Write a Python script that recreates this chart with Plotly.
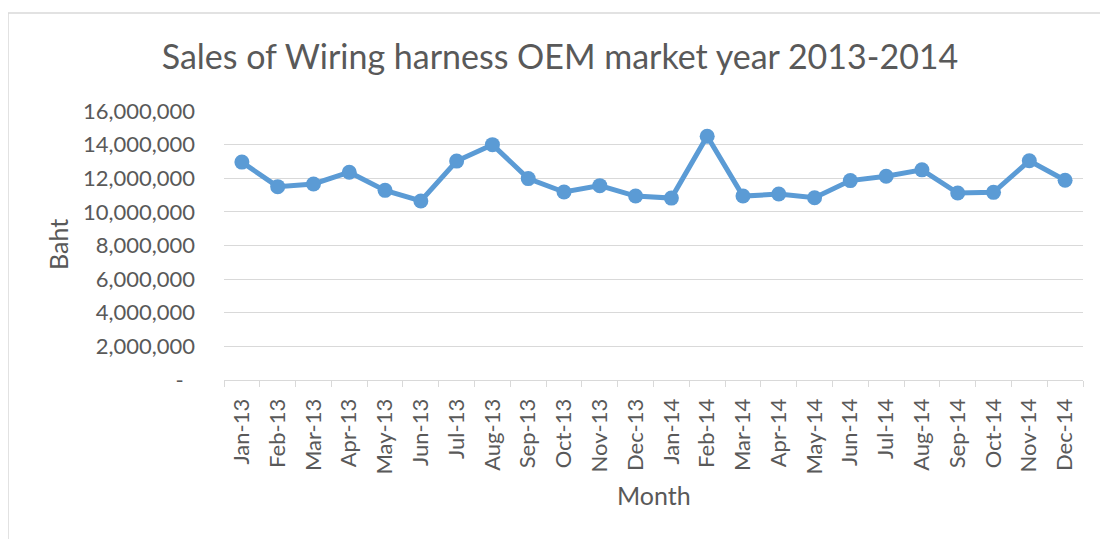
import plotly.graph_objects as go

months = ["Jan-13", "Feb-13", "Mar-13", "Apr-13", "May-13", "Jun-13",
          "Jul-13", "Aug-13", "Sep-13", "Oct-13", "Nov-13", "Dec-13",
          "Jan-14", "Feb-14", "Mar-14", "Apr-14", "May-14", "Jun-14",
          "Jul-14", "Aug-14", "Sep-14", "Oct-14", "Nov-14", "Dec-14"]
sales = [12960000, 11500000, 11660000, 12360000, 11280000, 10650000,
         13020000, 14000000, 11980000, 11180000, 11560000, 10940000,
         10820000, 14500000, 10940000, 11060000, 10840000, 11860000,
         12120000, 12500000, 11120000, 11160000, 13040000, 11880000]
y_tick_vals = [0, 2000000, 4000000, 6000000, 8000000, 10000000, 12000000, 14000000, 16000000]
y_tick_text = ["-\u00a0\u00a0", "2,000,000", "4,000,000", "6,000,000", "8,000,000",
               "10,000,000", "12,000,000", "14,000,000", "16,000,000"]

FONT = "Lato"
GREY = "#595959"
GRID = "#d9d9d9"
BLUE = "#5b9bd5"

# page body has an 8px margin; work in reference pixel coords minus OFF
OFF = 8
W, H = 1108 - OFF, 539 - OFF
PL, PR, PT, PB = 224, 1083, 111, 380  # plot area in reference pixels
ml, mt = PL - OFF, PT - OFF
mr = W - (PR - OFF)
mb = H - (PB - OFF)
pw, ph = PR - PL, PB - PT


def px2x(p):
    return (p - PL) / pw


def py2y(p):
    return (PB - p) / ph


fig = go.Figure()
fig.add_trace(go.Scatter(
    x=months, y=sales, mode="lines+markers",
    line=dict(color=BLUE, width=5),
    marker=dict(color=BLUE, size=15),
    showlegend=False,
))

fig.update_layout(
    width=W, height=H,
    margin=dict(l=ml, r=mr, t=mt, b=mb, pad=0),
    paper_bgcolor="white", plot_bgcolor="white",
    font=dict(family=FONT, color=GREY),
    title=dict(text="Sales of Wiring harness OEM market year 2013-2014",
               x=(560 - OFF) / W, xanchor="center", y=1 - (57 - OFF) / H, yanchor="middle",
               font=dict(size=34, color=GREY, family=FONT)),
    xaxis=dict(
        type="category", range=[-0.5, 23.5],
        tickangle=-90, tickfont=dict(size=22, color=GREY),
        ticks="outside", ticklen=6, tickcolor=GRID, tickson="boundaries",
        showline=True, linecolor=GRID, linewidth=1,
        showgrid=False, ticklabelstandoff=9,
    ),
    yaxis=dict(
        range=[0, 16000000], tickvals=y_tick_vals, ticktext=y_tick_text,
        tickfont=dict(size=22, color=GREY),
        showgrid=True, gridcolor=GRID, gridwidth=1,
        zeroline=False, showline=False, ticks="",
        ticklabelstandoff=28,
    ),
    annotations=[
        dict(text="Baht", x=px2x(58), y=py2y(245), xref="paper", yref="paper",
             xanchor="center", yanchor="middle",
             showarrow=False, textangle=-90, font=dict(size=25, color=GREY)),
        dict(text="Month", x=px2x(654), y=py2y(495), xref="paper", yref="paper",
             xanchor="center", yanchor="middle",
             showarrow=False, font=dict(size=25, color=GREY)),
    ],
)

fig.add_shape(type="rect", xref="paper", yref="paper",
              x0=px2x(8), x1=px2x(1120), y0=py2y(560), y1=py2y(13),
              line=dict(color=GRID, width=1.5), fillcolor="rgba(0,0,0,0)", layer="below")

fig.write_html("out.html")
